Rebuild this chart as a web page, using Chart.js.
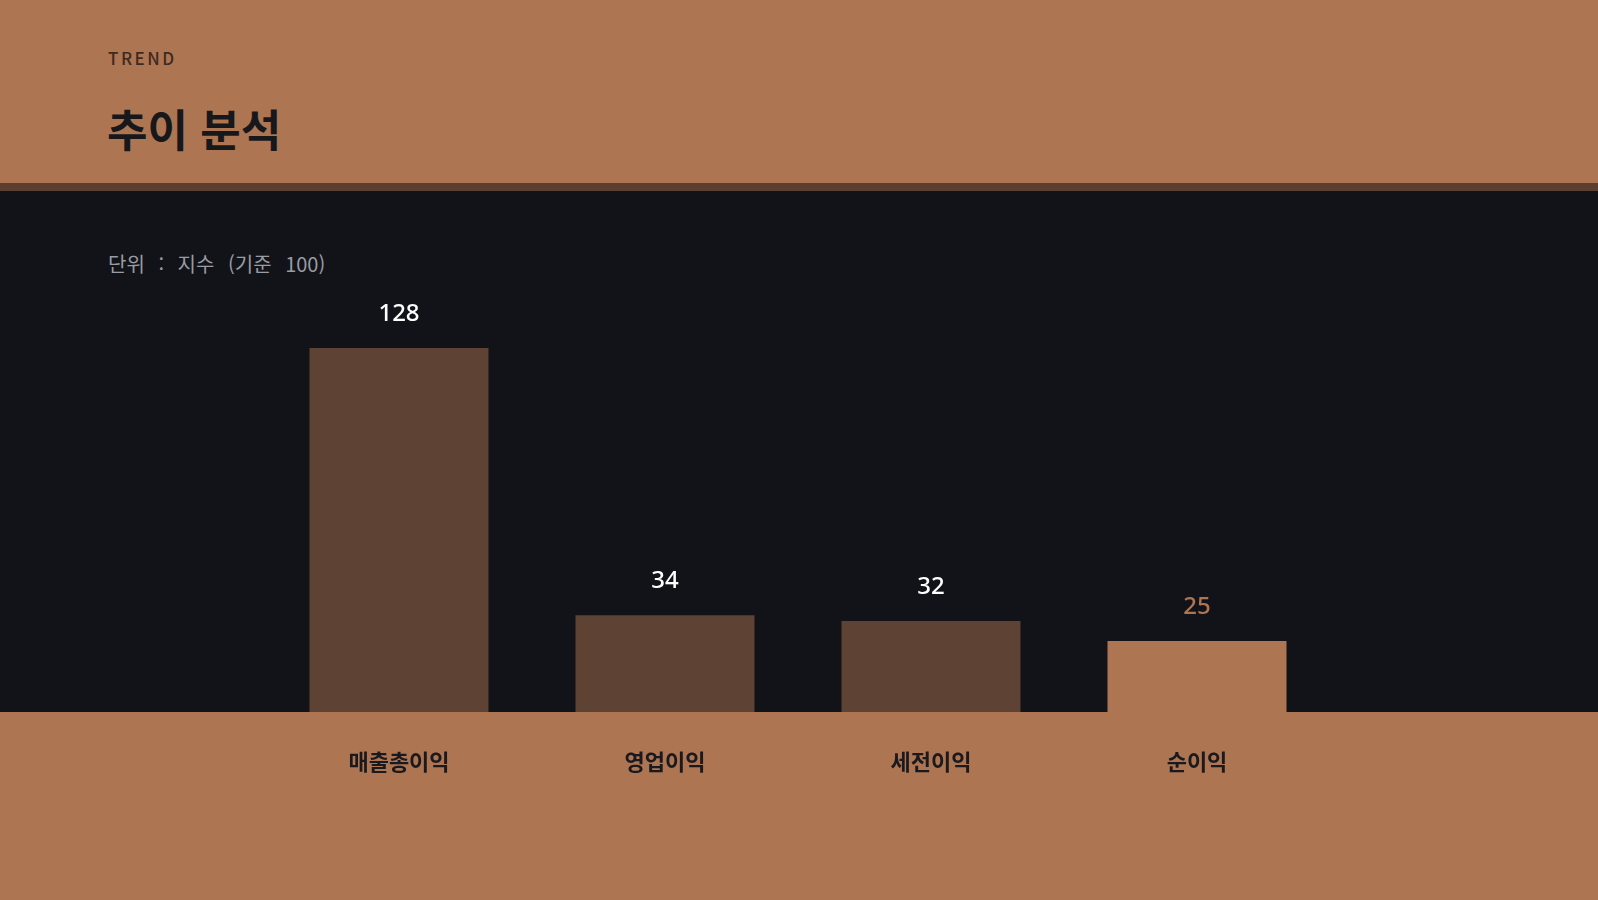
<!DOCTYPE html>
<html lang="ko">
<head>
  <meta charset="UTF-8">
  <title>추이 분석</title>
  <script src="https://cdn.jsdelivr.net/npm/chart.js"></script>
  <style>
    html, body { margin: 0; padding: 0; }
    body {
      width: 1598px; height: 900px; position: relative; overflow: hidden;
      background: #121318;
      font-family: "Noto Sans CJK KR", "Noto Sans", sans-serif;
    }
    .head {
      position: absolute; left: 0; top: 0; width: 1598px; height: 183px;
      background: #ae7553;
    }
    .rule {
      position: absolute; left: 0; top: 183px; width: 1598px; height: 8px;
      background: #5a3f31;
    }
    .foot {
      position: absolute; left: 0; top: 712px; width: 1598px; height: 188px;
      background: #ae7553;
    }
    .kicker {
      position: absolute; left: 108px; top: 45px;
      font-size: 17px; font-weight: 500; letter-spacing: 2.5px; color: #3e2a20;
    }
    .title {
      position: absolute; left: 107px; top: 96px;
      font-size: 44px; font-weight: 700; color: #17181c; margin: 0;
    }
    .unit {
      position: absolute; left: 108px; top: 249px;
      font-size: 20px; color: #9a9ca3; word-spacing: 8px;
    }
    #wrap { position: absolute; left: 0; top: 191px; width: 1598px; height: 709px; }
  </style>
</head>
<body>
  <div class="head"></div>
  <div class="rule"></div>
  <div class="foot"></div>
  <div class="kicker">TREND</div>
  <h1 class="title">추이 분석</h1>
  <div class="unit">단위 : 지수 (기준 100)</div>
  <div id="wrap"><canvas id="trendChart"></canvas></div>

  <script>
    const categories = ['매출총이익', '영업이익', '세전이익', '순이익'];
    const indexValues = [128, 34, 32, 25];
    const barColors = ['#5e4233', '#5e4233', '#5e4233', '#ae7553'];
    const labelColors = ['#ffffff', '#ffffff', '#ffffff', '#ae7553'];

    // value labels drawn above each bar
    const valueLabels = {
      id: 'valueLabels',
      afterDatasetsDraw(chart) {
        const ctx = chart.ctx;
        const meta = chart.getDatasetMeta(0);
        ctx.save();
        ctx.font = '500 24px "Noto Sans", "Noto Sans CJK KR", sans-serif';
        ctx.textAlign = 'center';
        ctx.textBaseline = 'middle';
        meta.data.forEach((bar, i) => {
          ctx.fillStyle = labelColors[i];
          ctx.fillText(String(indexValues[i]), bar.x, bar.y - 34);
        });
        ctx.restore();
      }
    };

    const ctx = document.getElementById('trendChart').getContext('2d');
    const chart = new Chart(ctx, {
      type: 'bar',
      data: {
        labels: categories,
        datasets: [{
          data: indexValues,
          backgroundColor: barColors,
          borderWidth: 0,
          barPercentage: 0.673,
          categoryPercentage: 1
        }]
      },
      options: {
        responsive: true,
        maintainAspectRatio: false,
        animation: false,
        layout: { padding: { left: 266, right: 268, top: 123, bottom: 108 } },
        plugins: { legend: { display: false }, tooltip: { enabled: false } },
        scales: {
          x: {
            grid: { display: false, drawTicks: false },
            border: { display: false },
            ticks: {
              color: '#1a1a1e',
              padding: 36,
              font: { family: '"Noto Sans CJK KR", sans-serif', size: 22, weight: '700' }
            },
            afterFit(scale) { scale.height = 80; }
          },
          y: {
            display: false,
            min: 0,
            max: 140
          }
        }
      },
      plugins: [valueLabels]
    });
  </script>
</body>
</html>
